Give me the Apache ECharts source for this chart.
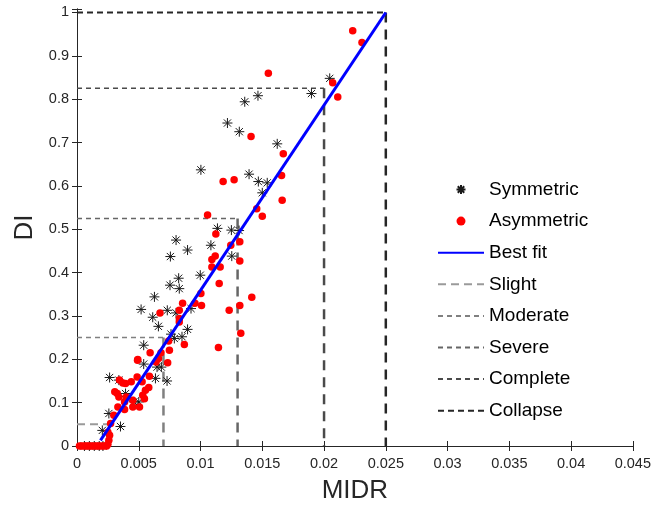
<!DOCTYPE html>
<html><head><meta charset="utf-8">
<script src="https://cdn.jsdelivr.net/npm/echarts@6/dist/echarts.min.js"></script>
<style>html,body{margin:0;padding:0;background:#fff}#c{width:654px;height:509px}</style>
</head><body><div id="c"></div>
<script>
// ---- data ----
var xTicks = [0, 0.005, 0.01, 0.015, 0.02, 0.025, 0.03, 0.035, 0.04, 0.045];
var yTicks = [0, 0.1, 0.2, 0.3, 0.4, 0.5, 0.6, 0.7, 0.8, 0.9, 1];

var symmetric = [
  [0.01218,0.745],[0.01314,0.725],[0.01358,0.794],[0.01465,0.808],[0.02046,0.848],[0.01898,0.813],
  [0.01621,0.697],[0.01393,0.627],[0.01468,0.610],[0.0154,0.607],[0.0150,0.584],[0.01312,0.497],
  [0.0125,0.498],[0.01253,0.438],[0.01003,0.637],[0.01137,0.502],[0.00802,0.475],[0.00895,0.452],
  [0.00756,0.437],[0.01084,0.463],[0.00998,0.394],[0.00823,0.387],[0.00753,0.371],[0.00828,0.363],
  [0.00627,0.344],[0.00519,0.315],[0.00731,0.313],[0.00923,0.317],[0.00613,0.297],[0.00802,0.307],
  [0.00659,0.276],[0.00895,0.269],[0.00761,0.258],[0.00788,0.248],[0.0085,0.252],[0.0054,0.2325],
  [0.0054,0.189],[0.00648,0.182],[0.00683,0.182],[0.00635,0.156],[0.00729,0.150],[0.00264,0.158],
  [0.00339,0.152],[0.00393,0.121],[0.0046,0.102],[0.0050,0.1016],[0.00258,0.075],[0.00352,0.045],
  [0.00205,0.036],
  [0.0006,0],[0.0010,0],[0.0014,0],[0.0018,0],[0.0021,0]
];
var asymmetric = [
  [0.01409,0.714],[0.01549,0.860],[0.02232,0.958],[0.02307,0.931],[0.0207,0.838],[0.02111,0.805],
  [0.0167,0.674],[0.01272,0.614],[0.01183,0.610],[0.01656,0.624],[0.01661,0.567],[0.01455,0.547],
  [0.0150,0.530],[0.01318,0.471],[0.01245,0.463],[0.01318,0.427],[0.01415,0.343],[0.01318,0.324],
  [0.01057,0.533],[0.01124,0.489],[0.01119,0.438],[0.01092,0.430],[0.01159,0.413],[0.01092,0.413],
  [0.01151,0.375],[0.01003,0.352],[0.00955,0.329],[0.01008,0.324],[0.00828,0.313],[0.01232,0.313],
  [0.00672,0.307],[0.00855,0.329],[0.00828,0.294],[0.00828,0.286],[0.00869,0.234],[0.00742,0.242],
  [0.00748,0.221],[0.0068,0.215],[0.00592,0.215],[0.00492,0.1995],[0.0049,0.198],[0.0064,0.194],
  [0.0066,0.202],[0.00734,0.192],[0.00527,0.148],[0.00586,0.161],[0.00581,0.135],[0.00554,0.1286],
  [0.00532,0.117],[0.00546,0.109],[0.00439,0.148],[0.00487,0.159],[0.00393,0.144],[0.00344,0.152],
  [0.00371,0.1455],[0.00306,0.125],[0.00326,0.121],[0.00339,0.113],[0.00398,0.113],[0.00385,0.1016],
  [0.00452,0.1055],[0.00506,0.090],[0.00452,0.090],[0.00331,0.090],[0.00385,0.084],[0.00298,0.071],
  [0.00272,0.052],[0.0025,0.032],[0.00264,0.025],[0.00258,0.013],[0.0025,0.004],
  [0.01145,0.227],[0.01326,0.260],
  [0.0002,0],[0.0004,0],[0.0006,0],[0.0008,0],[0.0010,0],[0.0012,0],[0.0014,0],[0.0016,0],
  [0.0018,0],[0.0020,0],[0.0022,0],[0.0024,0]
];
var bestFit = [[0.0019,0.013],[0.0250,1.0]];

var stateNames = ['Slight','Moderate','Severe','Complete','Collapse'];
var stateMIDR  = [0.0026, 0.007, 0.013, 0.020, 0.025];
var stateDI    = [0.05, 0.25, 0.525, 0.825, 1.0];

// ---- styles ----
var stateColors = ['#9a9a9a','#808080','#666666','#4a4a4a','#262626'];
var hStyle = [{w:2,d:[8,5]},{w:1.5,d:[5,4]},{w:1.5,d:[5,4]},{w:1.5,d:[5,4]},{w:2,d:[6,4]}];
var axisColor = '#262626';
var FONT = 'Arial, "Liberation Sans", Helvetica, sans-serif';

var asteriskPath = 'path://M0,-5L0,5M-5,0L5,0M-3.6,-3.6L3.6,3.6M-3.6,3.6L3.6,-3.6';

var series = [];
stateNames.forEach(function(n,i){
  series.push({
    name:n, type:'line', symbol:'none', silent:true, z:1,
    data:[[0,stateDI[i]],[stateMIDR[i],stateDI[i]]],
    lineStyle:{color:stateColors[i], width:hStyle[i].w, type:hStyle[i].d}
  });
  series.push({
    name:n, type:'line', symbol:'none', silent:true, z:1,
    data:[[stateMIDR[i],stateDI[i]],[stateMIDR[i],0]],
    lineStyle:{color:stateColors[i], width:2.5, type:[10,7]}
  });
});
series.unshift({
  name:'Best fit', type:'line', symbol:'none', z:4,
  data:bestFit, lineStyle:{color:'#0000ff', width:3}
});
series.unshift({
  name:'Asymmetric', type:'scatter', symbol:'circle', symbolSize:7.5, z:3,
  data:asymmetric, itemStyle:{color:'#ff0000', opacity:1}
});
series.unshift({
  name:'Symmetric', type:'scatter', symbol:asteriskPath, symbolSize:10, z:3,
  data:symmetric, itemStyle:{color:'#000', borderColor:'#1a1a1a', borderWidth:1, opacity:1}
});

var lineItems = ['Best fit'].concat(stateNames).map(function(n){
  return {name:n, itemStyle:{opacity:0}};
});

var chart = echarts.init(document.getElementById('c'), null, {renderer:'canvas'});
chart.setOption({
  animation:false,
  backgroundColor:'#fff',
  grid:{left:77, right:17, top:9, bottom:63, containLabel:false},
  legend:{
    orient:'vertical', left:437, top:180, padding:0,
    data:[{name:'Symmetric'},{name:'Asymmetric'}].concat(lineItems),
    itemWidth:46, itemHeight:9, itemGap:12.6,
    textStyle:{fontSize:19, color:'#000', fontFamily:FONT},
    selectedMode:false
  },
  xAxis:[{
    type:'value', min:xTicks[0], max:xTicks[xTicks.length-1], interval:0.005,
    name:'MIDR', nameLocation:'middle', nameGap:32,
    nameTextStyle:{fontSize:26, color:axisColor, fontFamily:FONT},
    axisLine:{show:true, lineStyle:{color:axisColor, width:1}},
    axisTick:{show:true, inside:true, length:5, lineStyle:{color:axisColor}},
    axisLabel:{fontSize:14.5, color:axisColor, fontFamily:FONT, margin:10,
      formatter:function(v){ return String(+v.toFixed(3)); }},
    splitLine:{show:false}
  },{
    type:'value', position:'top', min:xTicks[0], max:xTicks[xTicks.length-1], interval:0.005,
    axisLine:{show:true, lineStyle:{color:axisColor, width:1}},
    axisTick:{show:true, inside:true, length:5, lineStyle:{color:axisColor}},
    axisLabel:{show:false}, splitLine:{show:false}
  }],
  yAxis:[{
    type:'value', min:0, max:1.008, interval:0.1,
    name:'DI', nameLocation:'middle', nameGap:26,
    nameTextStyle:{fontSize:26, color:axisColor, fontFamily:FONT},
    axisLine:{show:true, lineStyle:{color:axisColor, width:1}},
    axisTick:{show:true, inside:true, length:5, lineStyle:{color:axisColor}},
    axisLabel:{fontSize:14.5, color:axisColor, fontFamily:FONT, margin:8,
      formatter:function(v){
        var r = Math.round(v*10)/10;
        if (Math.abs(v-r) > 1e-6) return '';
        return String(r);
      }},
    splitLine:{show:false}
  },{
    type:'value', position:'right', min:0, max:1.008, interval:0.1,
    axisLine:{show:true, lineStyle:{color:axisColor, width:1}},
    axisTick:{show:true, inside:true, length:5, lineStyle:{color:axisColor}},
    axisLabel:{show:false}, splitLine:{show:false}
  }],
  series:series
});
</script></body></html>
